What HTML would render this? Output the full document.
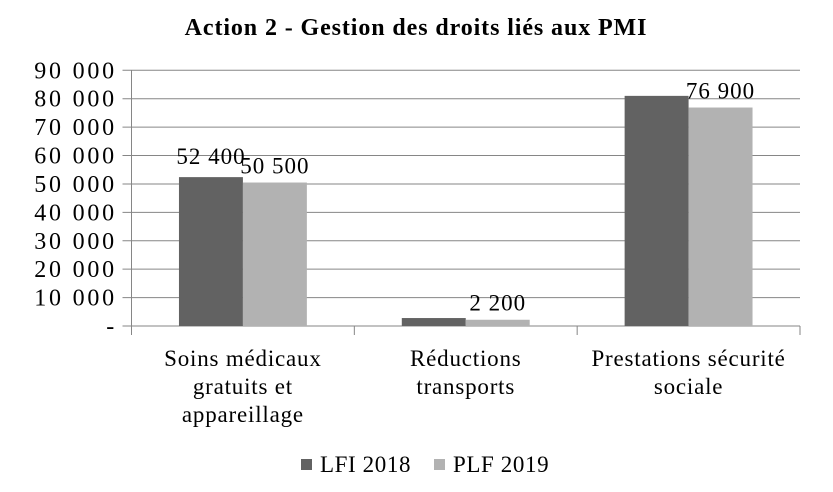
<!DOCTYPE html>
<html><head><meta charset="utf-8"><style>
body{margin:0;background:#fff;}
svg text{font-family:"Liberation Serif",serif;fill:#000;}
</style></head><body>
<svg width="833" height="487" xmlns="http://www.w3.org/2000/svg">
<text x="416" y="35" text-anchor="middle" font-size="24" font-weight="bold" letter-spacing="0.9">Action 2 - Gestion des droits liés aux PMI</text>
<g id="grid"></g><g id="bars"></g><g id="labels"></g>
<g>
<rect x="301" y="459" width="11" height="11" fill="#626262"/>
<text x="320" y="472" font-size="23" letter-spacing="0.6">LFI 2018</text>
<rect x="434" y="459" width="11" height="11" fill="#b2b2b2"/>
<text x="453" y="472" font-size="23" letter-spacing="0.6">PLF 2019</text>
</g>
</svg>
<script>
const categories=[["Soins médicaux","gratuits et","appareillage"],["Réductions","transports"],["Prestations sécurité","sociale"]];
const lfi=[52400,2800,81000];
const plf=[50500,2200,76900];
const lfiLabels=["52 400","",""];
const plfLabels=["50 500","2 200","76 900"];
const ticks=[0,10000,20000,30000,40000,50000,60000,70000,80000,90000];
const tickLabels=["-","10 000","20 000","30 000","40 000","50 000","60 000","70 000","80 000","90 000"];
const NS="http://www.w3.org/2000/svg";
const x0=131.5,x1=800,y0=326,yTop=70.3,vmax=90000;
const y=v=>y0-(v/vmax)*(y0-yTop);
const cw=(x1-x0)/categories.length;
function mk(t,a,p){const e=document.createElementNS(NS,t);for(const k in a)e.setAttribute(k,a[k]);p.appendChild(e);return e;}
const g=document.getElementById('grid'),b=document.getElementById('bars'),l=document.getElementById('labels');
ticks.forEach((t,i)=>{
 const ln=mk('line',{x1:x0-9,x2:x1,y1:y(t),y2:y(t),stroke:'#868686','stroke-width':1},g);
 
 
 const tx=mk('text',{x:117,y:y(t)+8,'text-anchor':'end','font-size':24,'letter-spacing':2.8},g);
 tx.textContent=tickLabels[i];
 
 
});
const ax=mk('line',{x1:x0,x2:x0,y1:yTop,y2:y0,stroke:'#868686'},g);


for(let i=0;i<=categories.length;i++){
 const tk=mk('line',{x1:x0+i*cw,x2:x0+i*cw,y1:y0,y2:y0+9,stroke:'#868686'},g);
 
 
}
const bw=cw*0.287;
categories.forEach((c,i)=>{
 const cx=x0+cw*(i+0.5);
 const r1=mk('rect',{x:cx-bw,y:y(lfi[i]),width:bw,height:y0-y(lfi[i]),fill:'#626262'},b);
 
 
 const r2=mk('rect',{x:cx,y:y(plf[i]),width:bw,height:y0-y(plf[i]),fill:'#b2b2b2'},b);
 
 
 if(lfiLabels[i]){const t=mk('text',{x:cx-bw/2,y:y(lfi[i])-13,'text-anchor':'middle','font-size':23,'letter-spacing':1},l);t.textContent=lfiLabels[i];
 
 }
 if(plfLabels[i]){const t=mk('text',{x:cx+bw/2,y:y(plf[i])-9,'text-anchor':'middle','font-size':23,'letter-spacing':1},l);t.textContent=plfLabels[i];
 
 }
 c.forEach((line,j)=>{const t=mk('text',{x:cx,y:366+j*28,'text-anchor':'middle','font-size':23,'letter-spacing':0.8},l);t.textContent=line;
 
 });
});
</script>
</body></html>
